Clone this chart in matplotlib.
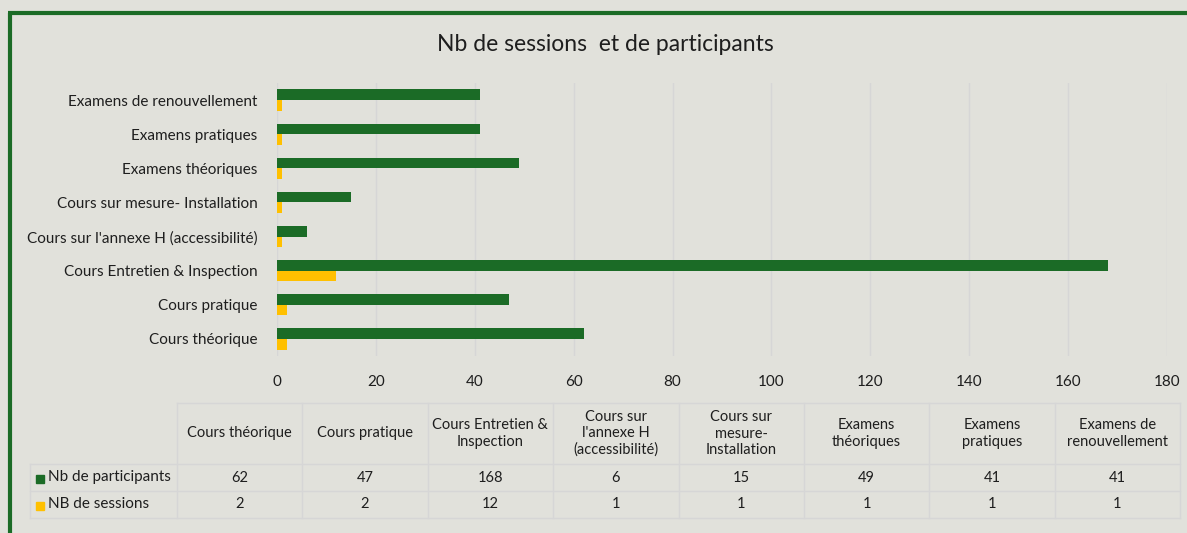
import numpy as np
import matplotlib
matplotlib.use("Agg")
import matplotlib.pyplot as plt
from matplotlib.patches import Rectangle

plt.rcParams['font.family'] = ['Lato', 'DejaVu Sans']

categories = [
    "Cours théorique",
    "Cours pratique",
    "Cours Entretien & Inspection",
    "Cours sur l'annexe H (accessibilité)",
    "Cours sur mesure- Installation",
    "Examens théoriques",
    "Examens pratiques",
    "Examens de renouvellement",
]
table_headers = [
    "Cours théorique",
    "Cours pratique",
    "Cours Entretien &\nInspection",
    "Cours sur\nl'annexe H\n(accessibilité)",
    "Cours sur\nmesure-\nInstallation",
    "Examens\nthéoriques",
    "Examens\npratiques",
    "Examens de\nrenouvellement",
]
participants = [62, 47, 168, 6, 15, 49, 41, 41]
sessions = [2, 2, 12, 1, 1, 1, 1, 1]
series_names = ["Nb de participants", "NB de sessions"]

BG = "#e1e1db"
GREEN = "#1b6b26"
YELLOW = "#ffc000"
GRID = "#d6d6d6"
TXT = "#1e1e1e"

W, H = 1187, 533
fig = plt.figure(figsize=(W / 100, H / 100), dpi=100)
fig.patch.set_facecolor(BG)

def px_axes(x0, y0, x1, y1):
    # pixel box (top-left origin) -> figure fraction
    return [x0 / W, 1 - y1 / H, (x1 - x0) / W, (y1 - y0) / H]

# ---- bar chart
ax = fig.add_axes(px_axes(277, 83, 1167, 356))
ax.set_facecolor(BG)
y = np.arange(len(categories))
h = 0.31
ax.barh(y + h / 2, participants, height=h, color=GREEN, zorder=3)
ax.barh(y - h / 2, sessions, height=h, color=YELLOW, zorder=3)
ax.set_xlim(0, 180)
ax.set_ylim(-0.5, len(categories) - 0.5)
ax.set_xticks(range(0, 181, 20))
ax.set_yticks(y)
ax.set_yticklabels(categories)
ax.grid(axis='x', color=GRID, linewidth=1, zorder=0)
for s in ax.spines.values():
    s.set_visible(False)
ax.tick_params(axis='both', length=0, labelsize=11, labelcolor=TXT)
ax.tick_params(axis='y', pad=14)
ax.tick_params(axis='x', pad=14)

fig.text(605 / W, 1 - 45 / H, "Nb de sessions  et de participants",
         ha='center', va='center', fontsize=16.5, color=TXT)

# ---- data table drawn in pixel coords
tax = fig.add_axes([0, 0, 1, 1])
tax.set_xlim(0, W)
tax.set_ylim(H, 0)
tax.axis('off')

# green frame (left + top)
tax.plot([9.5, 9.5], [13, H], color=GREEN, linewidth=3, solid_capstyle='butt')
tax.plot([8, W], [13, 13], color=GREEN, linewidth=3, solid_capstyle='butt')

col_x = np.linspace(177, 1180, len(categories) + 1)
head_top, row1_top, row2_top, bottom = 403, 464, 491, 518
lab_left = 30

lc = dict(color=GRID, linewidth=1)
tax.plot([col_x[0], col_x[-1]], [head_top, head_top], **lc)
for yy in (row1_top, row2_top, bottom):
    tax.plot([lab_left, col_x[-1]], [yy, yy], **lc)
for xx in col_x:
    tax.plot([xx, xx], [head_top, bottom], **lc)
tax.plot([lab_left, lab_left], [row1_top, bottom], **lc)

for i, lab in enumerate(table_headers):
    cx = (col_x[i] + col_x[i + 1]) / 2
    tax.text(cx, (head_top + row1_top) / 2, lab, ha='center', va='center',
             fontsize=10.5, color=TXT, linespacing=1.2)
    tax.text(cx, (row1_top + row2_top) / 2, str(participants[i]),
             ha='center', va='center', fontsize=10.5, color=TXT)
    tax.text(cx, (row2_top + bottom) / 2, str(sessions[i]),
             ha='center', va='center', fontsize=10.5, color=TXT)

for name, color, (t, b) in zip(series_names, [GREEN, YELLOW],
                               [(row1_top, row2_top), (row2_top, bottom)]):
    cy = (t + b) / 2
    tax.add_patch(Rectangle((36, cy - 3), 8, 8, color=color))
    tax.text(48, cy - 1, name, ha='left', va='center', fontsize=11, color=TXT)

fig.savefig("out.png", dpi=100, facecolor=BG)
